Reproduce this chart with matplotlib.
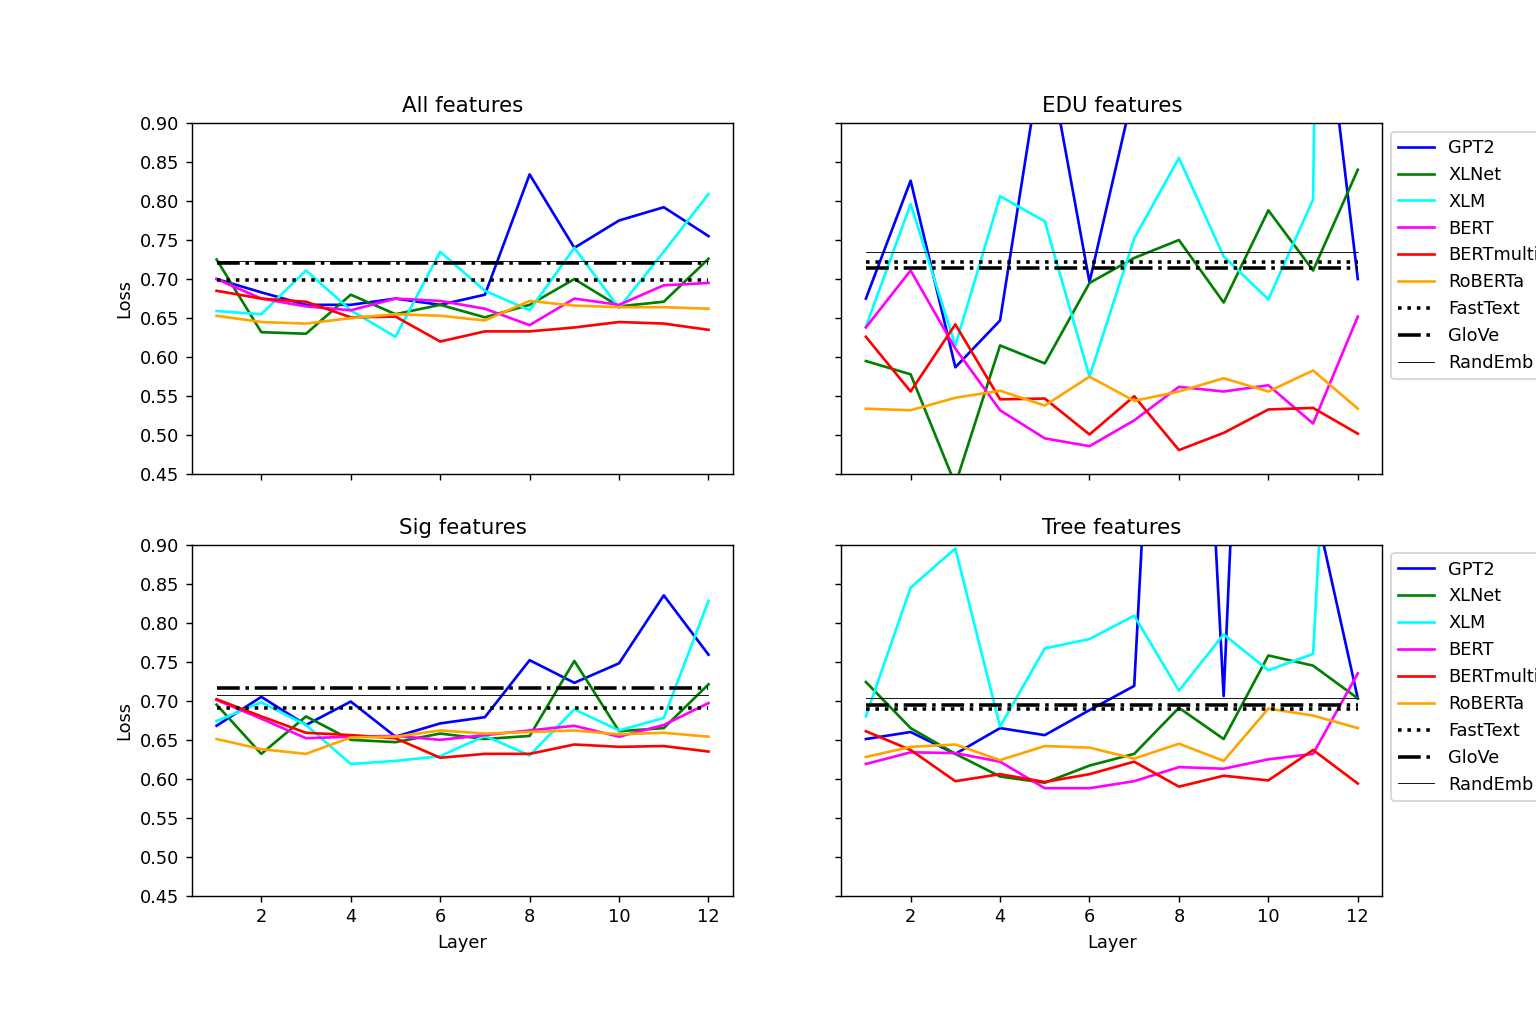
import numpy as np
import matplotlib
matplotlib.use('Agg')
import matplotlib.pyplot as plt

# capas
layers = np.arange(1, 13)

models = ['GPT2', 'XLNet', 'XLM', 'BERT', 'BERTmulti', 'RoBERTa']
colors = ['blue', 'green', 'cyan', 'magenta', 'red', 'orange']

# All features
all_gpt2 = [0.700, 0.683, 0.667, 0.667, 0.675, 0.667, 0.680, 0.834, 0.740, 0.775, 0.792, 0.755]
all_xlnet = [0.725, 0.632, 0.630, 0.680, 0.655, 0.667, 0.651, 0.667, 0.700, 0.665, 0.671, 0.726]
all_xlm = [0.659, 0.655, 0.711, 0.660, 0.626, 0.735, 0.685, 0.660, 0.740, 0.663, 0.735, 0.809]
all_bert = [0.700, 0.675, 0.665, 0.660, 0.675, 0.672, 0.662, 0.641, 0.675, 0.667, 0.692, 0.695]
all_bertmulti = [0.685, 0.675, 0.671, 0.651, 0.652, 0.620, 0.633, 0.633, 0.638, 0.645, 0.643, 0.635]
all_roberta = [0.653, 0.645, 0.643, 0.650, 0.655, 0.653, 0.647, 0.672, 0.666, 0.664, 0.664, 0.662]
all_fasttext, all_glove, all_randemb = 0.699, 0.721, 0.723

# EDU features
edu_gpt2 = [0.675, 0.826, 0.587, 0.647, 1.01, 0.696, 0.945, 1.05, 1.10, 1.15, 1.18, 0.700]
edu_xlnet = [0.595, 0.578, 0.437, 0.615, 0.592, 0.695, 0.727, 0.750, 0.670, 0.788, 0.711, 0.840]
edu_xlm = [0.639, 0.796, 0.615, 0.806, 0.774, 0.575, 0.752, 0.855, 0.729, 0.674, 0.802, 5.0]
edu_bert = [0.638, 0.711, 0.611, 0.532, 0.496, 0.486, 0.519, 0.562, 0.556, 0.564, 0.515, 0.652]
edu_bertmulti = [0.626, 0.556, 0.642, 0.546, 0.547, 0.501, 0.550, 0.481, 0.503, 0.533, 0.535, 0.502]
edu_roberta = [0.534, 0.532, 0.548, 0.557, 0.538, 0.575, 0.544, 0.556, 0.573, 0.556, 0.583, 0.534]
edu_fasttext, edu_glove, edu_randemb = 0.722, 0.714, 0.735

# Sig features
sig_gpt2 = [0.668, 0.705, 0.669, 0.699, 0.654, 0.671, 0.679, 0.752, 0.723, 0.748, 0.835, 0.759]
sig_xlnet = [0.695, 0.632, 0.680, 0.650, 0.647, 0.658, 0.651, 0.655, 0.751, 0.661, 0.665, 0.721]
sig_xlm = [0.674, 0.698, 0.669, 0.619, 0.623, 0.629, 0.655, 0.630, 0.689, 0.662, 0.678, 0.828]
sig_bert = [0.701, 0.677, 0.652, 0.654, 0.655, 0.650, 0.656, 0.662, 0.668, 0.654, 0.669, 0.697]
sig_bertmulti = [0.702, 0.680, 0.659, 0.656, 0.652, 0.627, 0.632, 0.632, 0.644, 0.641, 0.642, 0.635]
sig_roberta = [0.651, 0.638, 0.632, 0.653, 0.654, 0.662, 0.658, 0.660, 0.662, 0.657, 0.659, 0.654]
sig_fasttext, sig_glove, sig_randemb = 0.691, 0.716, 0.707

# Tree features
tree_gpt2 = [0.651, 0.660, 0.632, 0.665, 0.656, 0.688, 0.719, 1.80, 0.706, 2.00, 0.961, 0.703]
tree_xlnet = [0.724, 0.665, 0.632, 0.603, 0.595, 0.617, 0.632, 0.691, 0.651, 0.758, 0.745, 0.703]
tree_xlm = [0.680, 0.845, 0.895, 0.667, 0.767, 0.779, 0.809, 0.713, 0.785, 0.739, 0.760, 1.80]
tree_bert = [0.619, 0.634, 0.633, 0.622, 0.588, 0.588, 0.597, 0.615, 0.613, 0.625, 0.632, 0.735]
tree_bertmulti = [0.661, 0.637, 0.597, 0.606, 0.596, 0.606, 0.622, 0.590, 0.604, 0.598, 0.637, 0.594]
tree_roberta = [0.628, 0.641, 0.644, 0.624, 0.642, 0.640, 0.626, 0.645, 0.623, 0.690, 0.681, 0.665]
tree_fasttext, tree_glove, tree_randemb = 0.690, 0.695, 0.703

panels = [
    ('All features', [all_gpt2, all_xlnet, all_xlm, all_bert, all_bertmulti, all_roberta],
     all_fasttext, all_glove, all_randemb),
    ('EDU features', [edu_gpt2, edu_xlnet, edu_xlm, edu_bert, edu_bertmulti, edu_roberta],
     edu_fasttext, edu_glove, edu_randemb),
    ('Sig features', [sig_gpt2, sig_xlnet, sig_xlm, sig_bert, sig_bertmulti, sig_roberta],
     sig_fasttext, sig_glove, sig_randemb),
    ('Tree features', [tree_gpt2, tree_xlnet, tree_xlm, tree_bert, tree_bertmulti, tree_roberta],
     tree_fasttext, tree_glove, tree_randemb),
]

fig, axes = plt.subplots(2, 2, figsize=(12, 8), sharex=True, sharey=True)
fig.subplots_adjust(left=0.125, right=0.9, top=0.88, bottom=0.125, wspace=0.2, hspace=0.2)

for i, (title, series, ft, gl, rnd) in enumerate(panels):
    ax = axes.flat[i]
    for name, col, vals in zip(models, colors, series):
        ax.plot(layers, vals, color=col, label=name)
    ax.plot(layers, np.full(len(layers), ft), 'k:', lw=2, label='FastText')
    ax.plot(layers, np.full(len(layers), gl), 'k-.', lw=2, label='GloVe')
    ax.plot(layers, np.full(len(layers), rnd), 'k-', lw=0.5, label='RandEmb')
    ax.set_title(title)
    ax.set_ylim(0.45, 0.90)
    ax.set_yticks(np.arange(0.45, 0.901, 0.05))
    ax.set_xticks([2, 4, 6, 8, 10, 12])
    if i % 2 == 0:
        ax.set_ylabel('Loss')
    else:
        ax.legend(loc='upper left', bbox_to_anchor=(1.0, 1.0))
    if i >= 2:
        ax.set_xlabel('Layer')

fig.savefig('out.png', dpi=128)
